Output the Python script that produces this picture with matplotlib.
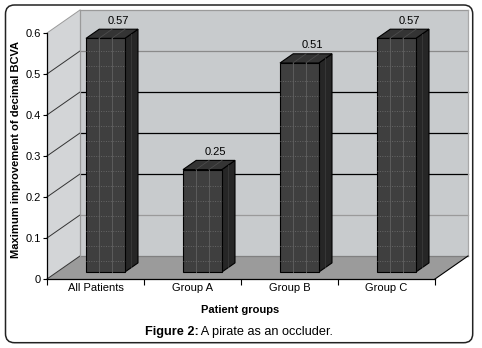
import numpy as np
import matplotlib
matplotlib.use("Agg")
import matplotlib.pyplot as plt
from matplotlib.patches import Polygon, FancyBboxPatch

plt.rcParams['font.family'] = ['Liberation Sans', 'DejaVu Sans']

groups = ["All Patients", "Group A", "Group B", "Group C"]
values = [0.57, 0.25, 0.51, 0.57]
value_labels = ["0.57", "0.25", "0.51", "0.57"]
yticks = [0, 0.1, 0.2, 0.3, 0.4, 0.5, 0.6]
ytick_labels = ["0", "0.1", "0.2", "0.3", "0.4", "0.5", "0.6"]

# fake 3d depth (in data units)
DX = 0.34
DY = 0.0561
Z0, Z1 = 0.3, 0.7
W = 0.40

WALL = "#c8cbcd"
SIDE = "#d3d5d7"
FLOOR = "#9b9b9b"
FRONT = "#3f3f3f"
RSIDE = "#262626"
TOP = "#343434"

fig = plt.figure(figsize=(4.82, 3.48), dpi=100)
ax = fig.add_axes([47 / 482, 69 / 348, 388 / 482, 246 / 348])
ax.set_facecolor("none")
n = len(groups)
ymax = yticks[-1]
ax.set_xlim(0, n)
ax.set_ylim(0, ymax)


def poly(pts, fc, ec="none", lw=0.8, z=1):
    ax.add_patch(Polygon(pts, closed=True, facecolor=fc, edgecolor=ec,
                         linewidth=lw, clip_on=False, zorder=z))


# walls and floor
poly([(DX, DY), (n + DX, DY), (n + DX, ymax + DY), (DX, ymax + DY)], WALL, z=0.5)
poly([(0, 0), (DX, DY), (DX, ymax + DY), (0, ymax)], SIDE, z=0.5)
poly([(0, 0), (n, 0), (n + DX, DY), (DX, DY)], FLOOR, z=0.6)

grid_cols = ["#808080", "#9a9a9a", "black", "black", "black", "#8a8a8a", "#9a9a9a"]
for y, c in zip(yticks, grid_cols):
    ax.plot([DX, n + DX], [y + DY, y + DY], color=c, lw=0.9, clip_on=False, zorder=0.7)
    ax.plot([0, DX], [y, y + DY], color="#333333" if y < ymax else "#9a9a9a",
            lw=0.7, clip_on=False, zorder=0.7)
ax.plot([DX, DX], [DY, ymax + DY], color="#9a9a9a", lw=0.9, clip_on=False, zorder=0.7)
ax.plot([n + DX, n + DX], [DY, ymax + DY], color="#a8a8a8", lw=0.9, clip_on=False, zorder=0.7)
ax.plot([n, n + DX], [0, DY], color="black", lw=0.8, clip_on=False, zorder=0.7)

# bars
step = 15 / 410
for i, v in enumerate(values):
    L = i + 0.5 - W / 2
    R = L + W
    x0, y0 = Z0 * DX, Z0 * DY
    x1, y1 = Z1 * DX, Z1 * DY
    poly([(R + x0, y0), (R + x1, y1), (R + x1, v + y1), (R + x0, v + y0)],
         RSIDE, ec="black", z=2)
    poly([(L + x0, v + y0), (R + x0, v + y0), (R + x1, v + y1), (L + x1, v + y1)],
         TOP, ec="black", z=2)
    poly([(L + x0, y0), (R + x0, y0), (R + x0, v + y0), (L + x0, v + y0)],
         FRONT, ec="black", z=2)
    # face texture
    for k in (1, 2):
        ax.plot([L + x0 + k * W / 3] * 2, [y0, v + y0], color="#5c5c5c",
                lw=0.7, clip_on=False, zorder=2.1)
        ax.plot([L + x0 + k * W / 3, L + x1 + k * W / 3], [v + y0, v + y1],
                color="#4c4c4c", lw=0.6, clip_on=False, zorder=2.1)
    ax.plot([R + (x0 + x1) / 2] * 2, [(y0 + y1) / 2, v + (y0 + y1) / 2],
            color="#3a3a3a", lw=0.6, clip_on=False, zorder=2.1)
    for yy in np.arange(y0 + 11 / 410, v + y0 - 0.01, step):
        ax.plot([L + x0, R + x0], [yy, yy], color="#666666", lw=0.7,
                ls=(0, (1, 1.5)), clip_on=False, zorder=2.1)
    ax.annotate(value_labels[i], (i + 0.5 + x1, v + y1), xytext=(0, 2.5),
                textcoords="offset points", ha="center", va="bottom",
                fontsize=8, annotation_clip=False)

# front axes
for s in ("top", "right"):
    ax.spines[s].set_visible(False)
ax.spines["left"].set_linewidth(0.9)
ax.spines["bottom"].set_linewidth(0.9)
ax.spines["left"].set_zorder(3)
ax.spines["bottom"].set_zorder(3)
ax.set_yticks(yticks)
ax.set_yticklabels(ytick_labels, fontsize=8)
ax.tick_params(axis="y", length=3, width=0.8, pad=1.5)
ax.set_xticks(np.arange(n + 1))
ax.set_xticklabels([])
ax.tick_params(axis="x", which="major", length=4, width=0.8)
ax.set_xticks(np.arange(n) + 0.5, minor=True)
ax.set_xticklabels(groups, minor=True, fontsize=8)
ax.tick_params(axis="x", which="minor", length=0, pad=3)

fig.text(16 / 482, 1 - 150 / 348, "Maximum improvement of decimal BCVA",
         rotation=90, ha="center", va="center", fontsize=8, fontweight="bold")
fig.text(240 / 482, 1 - 310 / 348, "Patient groups", ha="center", va="center",
         fontsize=8, fontweight="bold")

# caption with bold prefix
cap1 = fig.text(0, 1 - 332 / 348, "Figure 2:", ha="left", va="center",
                fontsize=9.2, fontweight="bold")
cap2 = fig.text(0, 1 - 332 / 348, " A pirate as an occluder.", ha="left",
                va="center", fontsize=9.2)
fig.canvas.draw()
r = fig.canvas.get_renderer()
w1 = cap1.get_window_extent(r).width
w2 = cap2.get_window_extent(r).width
start = 239 - (w1 + w2) / 2
cap1.set_x(start / 482)
cap2.set_x((start + w1) / 482)

fig.patches.append(FancyBboxPatch((0.055, 0.053), 4.672, 3.377,
                                  boxstyle="round,pad=0,rounding_size=0.09",
                                  transform=fig.dpi_scale_trans, facecolor="none",
                                  edgecolor="#222222", linewidth=1.1))

fig.savefig("out.png", dpi=100)
